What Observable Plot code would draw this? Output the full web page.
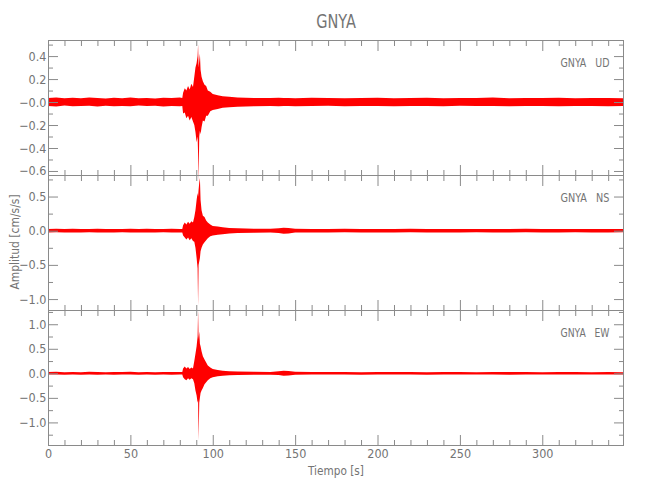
<!DOCTYPE html>
<html><head><meta charset="utf-8">
<script src="https://cdn.jsdelivr.net/npm/d3@7"></script>
<script src="https://cdn.jsdelivr.net/npm/@observablehq/plot@0.6"></script>
<style>
body{margin:0;background:#fff;}
#chart{position:relative;width:650px;height:500px;overflow:hidden;font-family:"Liberation Sans Narrow","DejaVu Sans Condensed","Liberation Sans",sans-serif;font-stretch:condensed;color:#747474;}
#chart svg{position:absolute;left:0;overflow:visible;}
.t{position:absolute;white-space:pre;line-height:1;}
#title{left:336px;top:12px;font-size:19px;transform:translateX(-50%) scaleX(0.85);}
#ylab{left:14px;top:242px;font-size:13px;transform:translate(-50%,-50%) rotate(-90deg) scaleX(0.92);}
#xlab{left:336px;top:464px;font-size:13px;transform:translateX(-50%) scaleX(0.9);}
</style></head><body>
<div id="chart">
<div class="t" id="title">GNYA</div>
<div class="t" id="ylab">Amplitud [cm/s/s]</div>
<div class="t" id="xlab">Tiempo [s]</div>
</div>
<script>
// ---- data (envelope of each trace) ----
const times = [
  0,5,10,15,20,25,30,35,40,45,50,55,60,65,70,75,80,81.5,
  82,83,84,85,86,87,88,88.8,89.5,90.2,90.8,91.1,91.4,91.8,92.2,92.6,93.2,94,95,96,97,98.5,100,103,106,110,
  115,125,135,140,143,146,150,160,170,180,190,200,210,220,230,240,250,260,270,280,290,300,310,320,330,340,349
];
const udHi = [
  0.035,0.04,0.032,0.038,0.033,0.04,0.036,0.03,0.037,0.034,0.04,0.033,0.036,0.031,0.038,0.035,0.04,0.036,
  0.08,0.12,0.10,0.14,0.11,0.16,0.13,0.22,0.30,0.34,0.40,0.50,0.30,0.36,0.42,0.28,0.22,0.18,0.15,0.14,0.10,0.09,0.07,0.06,0.05,0.045,
  0.04,0.036,0.035,0.038,0.035,0.036,0.034,0.037,0.035,0.033,0.036,0.038,0.034,0.035,0.037,0.034,0.036,0.035,0.04,0.034,0.036,0.035,0.037,0.034,0.036,0.035,0.034
];
const udLo = [
  -0.034,-0.038,-0.031,-0.036,-0.035,-0.033,-0.038,-0.032,-0.036,-0.034,-0.037,-0.031,-0.035,-0.033,-0.038,-0.034,-0.036,-0.035,
  -0.10,-0.09,-0.14,-0.12,-0.16,-0.13,-0.17,-0.20,-0.26,-0.35,-0.30,-0.45,-0.68,-0.30,-0.25,-0.28,-0.22,-0.16,-0.17,-0.12,-0.12,-0.08,-0.07,-0.06,-0.05,-0.045,
  -0.04,-0.036,-0.034,-0.037,-0.035,-0.034,-0.036,-0.035,-0.033,-0.036,-0.034,-0.035,-0.037,-0.034,-0.035,-0.036,-0.033,-0.035,-0.034,-0.037,-0.035,-0.034,-0.036,-0.035,-0.034,-0.036,-0.035
];
const nsHi = [
  0.025,0.028,0.024,0.027,0.025,0.026,0.028,0.024,0.026,0.025,0.027,0.024,0.028,0.025,0.026,0.027,0.025,0.026,
  0.08,0.12,0.09,0.13,0.10,0.14,0.12,0.20,0.30,0.45,0.55,0.50,0.60,0.70,0.77,0.45,0.30,0.22,0.20,0.15,0.12,0.09,0.07,0.06,0.05,0.04,
  0.035,0.03,0.028,0.035,0.045,0.04,0.028,0.026,0.025,0.027,0.024,0.026,0.025,0.027,0.024,0.026,0.025,0.024,0.026,0.025,0.027,0.024,0.025,0.026,0.024,0.025,0.024
];
const nsLo = [
  -0.026,-0.024,-0.027,-0.025,-0.028,-0.024,-0.026,-0.025,-0.027,-0.024,-0.026,-0.028,-0.025,-0.026,-0.024,-0.027,-0.025,-0.026,
  -0.07,-0.10,-0.13,-0.10,-0.14,-0.11,-0.15,-0.16,-0.25,-0.40,-0.55,-1.09,-0.50,-0.45,-0.40,-0.30,-0.25,-0.20,-0.17,-0.14,-0.11,-0.08,-0.07,-0.06,-0.05,-0.04,
  -0.035,-0.03,-0.027,-0.034,-0.045,-0.04,-0.027,-0.025,-0.026,-0.024,-0.027,-0.025,-0.026,-0.024,-0.027,-0.025,-0.026,-0.024,-0.025,-0.027,-0.024,-0.026,-0.025,-0.024,-0.026,-0.025,-0.024
];
const ewHi = [
  0.025,0.03,0.022,0.028,0.024,0.03,0.026,0.022,0.028,0.025,0.03,0.023,0.027,0.024,0.029,0.025,0.028,0.026,
  0.10,0.14,0.10,0.13,0.09,0.12,0.10,0.25,0.40,0.55,0.75,1.28,0.70,0.85,0.60,0.55,0.45,0.35,0.28,0.22,0.16,0.12,0.09,0.07,0.05,0.04,
  0.035,0.03,0.028,0.04,0.05,0.045,0.03,0.026,0.025,0.027,0.024,0.026,0.025,0.027,0.024,0.026,0.025,0.024,0.026,0.025,0.027,0.024,0.025,0.026,0.024,0.025,0.024
];
const ewLo = [
  -0.026,-0.024,-0.028,-0.025,-0.029,-0.023,-0.027,-0.025,-0.028,-0.024,-0.026,-0.029,-0.025,-0.027,-0.024,-0.028,-0.025,-0.026,
  -0.08,-0.12,-0.14,-0.10,-0.13,-0.10,-0.12,-0.20,-0.35,-0.45,-0.60,-0.55,-1.36,-0.60,-0.50,-0.40,-0.35,-0.30,-0.22,-0.18,-0.14,-0.10,-0.08,-0.06,-0.05,-0.04,
  -0.035,-0.03,-0.027,-0.034,-0.05,-0.045,-0.027,-0.025,-0.026,-0.024,-0.027,-0.025,-0.026,-0.024,-0.027,-0.025,-0.026,-0.024,-0.025,-0.027,-0.024,-0.026,-0.025,-0.024,-0.026,-0.025,-0.024
];

const xTicks = [0,50,100,150,200,250,300];
const xTickLabels = ["0","50","100","150","200","250","300"];
const xMinor = [10,20,30,40,60,70,80,90,110,120,130,140,160,170,180,190,210,220,230,240,260,270,280,290,310,320,330,340];

const udTicks = [0.4,0.2,0,-0.2,-0.4,-0.6];
const udTickLabels = ["0.4","0.2","\u22120.0","\u22120.2","\u22120.4","\u22120.6"];
const udMinor = [0.5,0.3,0.1,-0.1,-0.3,-0.5];
const nsTicks = [0.5,0,-0.5,-1.0];
const nsTickLabels = ["0.5","0.0","\u22120.5","\u22121.0"];
const nsMinor = [0.75,0.25,-0.25,-0.75];
const ewTicks = [1.0,0.5,0,-0.5,-1.0];
const ewTickLabels = ["1.0","0.5","0.0","\u22120.5","\u22121.0"];
const ewMinor = [1.25,0.75,0.25,-0.25,-0.75,-1.25];

const panels = [
  {name:"GNYA\u00a0\u00a0\u00a0UD", hi:udHi, lo:udLo, domain:[-0.635,0.54], ticks:udTicks, labels:udTickLabels, minor:udMinor, top:40, showX:false},
  {name:"GNYA\u00a0\u00a0\u00a0NS", hi:nsHi, lo:nsLo, domain:[-1.16,0.815], ticks:nsTicks, labels:nsTickLabels, minor:nsMinor, top:175, showX:false},
  {name:"GNYA\u00a0\u00a0\u00a0EW", hi:ewHi, lo:ewLo, domain:[-1.46,1.29], ticks:ewTicks, labels:ewTickLabels, minor:ewMinor, top:310, showX:true}
];

const chart = document.getElementById("chart");
const blank = () => "";
for (const p of panels) {
  const data = times.map((t, i) => ({t, hi: p.hi[i], lo: p.lo[i]}));
  const H = 135, mb = p.showX ? 55 : 0;
  const marks = [
    Plot.areaY(data, {x:"t", y1:"lo", y2:"hi", fill:"#ff0000", curve:"linear"}),
    Plot.frame({stroke:"#8a8a8a"}),
    Plot.axisX(xTicks, {anchor:"bottom", tickSize:-10, tickFormat:blank, stroke:"#8a8a8a", label:null}),
    Plot.axisX(xMinor, {anchor:"bottom", tickSize:-5, tickFormat:blank, stroke:"#8a8a8a", label:null}),
    Plot.axisX(xTicks, {anchor:"top", tickSize:-10, tickFormat:blank, stroke:"#8a8a8a", label:null}),
    Plot.axisX(xMinor, {anchor:"top", tickSize:-5, tickFormat:blank, stroke:"#8a8a8a", label:null}),
    Plot.axisY(p.ticks, {anchor:"left", tickSize:-10, tickFormat:blank, stroke:"#8a8a8a", label:null}),
    Plot.axisY(p.minor, {anchor:"left", tickSize:-5, tickFormat:blank, stroke:"#8a8a8a", label:null}),
    Plot.axisY(p.ticks, {anchor:"right", tickSize:-10, tickFormat:blank, stroke:"#8a8a8a", label:null}),
    Plot.axisY(p.minor, {anchor:"right", tickSize:-5, tickFormat:blank, stroke:"#8a8a8a", label:null}),
    Plot.axisY(p.ticks, {anchor:"left", tickSize:0, tickPadding:2, tickFormat:d => p.labels[p.ticks.indexOf(d)], fill:"#747474", fontSize:12.5, label:null}),
    Plot.text([p.name], {text:d => d, frameAnchor:"top-right", dx:-14, dy:26, lineAnchor:"bottom", fontSize:13, fill:"#747474", className:"plabel"})
  ];
  if (p.showX) marks.push(Plot.axisX(xTicks, {anchor:"bottom", tickSize:0, tickPadding:4, tickFormat:d => xTickLabels[xTicks.indexOf(d)], fill:"#747474", fontSize:12.5, label:null}));
  const svg = Plot.plot({
    width:650, height:H + mb,
    marginLeft:48, marginRight:27, marginTop:0, marginBottom:mb,
    x:{domain:[0,349]},
    y:{domain:p.domain},
    style:{fontFamily:'"Liberation Sans Narrow","DejaVu Sans Condensed","Liberation Sans",sans-serif', fontSize:"12.5px", color:"#8a8a8a", background:"transparent", overflow:"visible"},
    marks
  });
  // narrow the in-panel station label like the original's condensed font
  svg.querySelectorAll(".plabel text").forEach(t => {
    t.setAttribute("textLength", "49");
    t.setAttribute("lengthAdjust", "spacingAndGlyphs");
  });
  svg.style.top = p.top + "px";
  chart.appendChild(svg);
}
</script>
</body></html>
